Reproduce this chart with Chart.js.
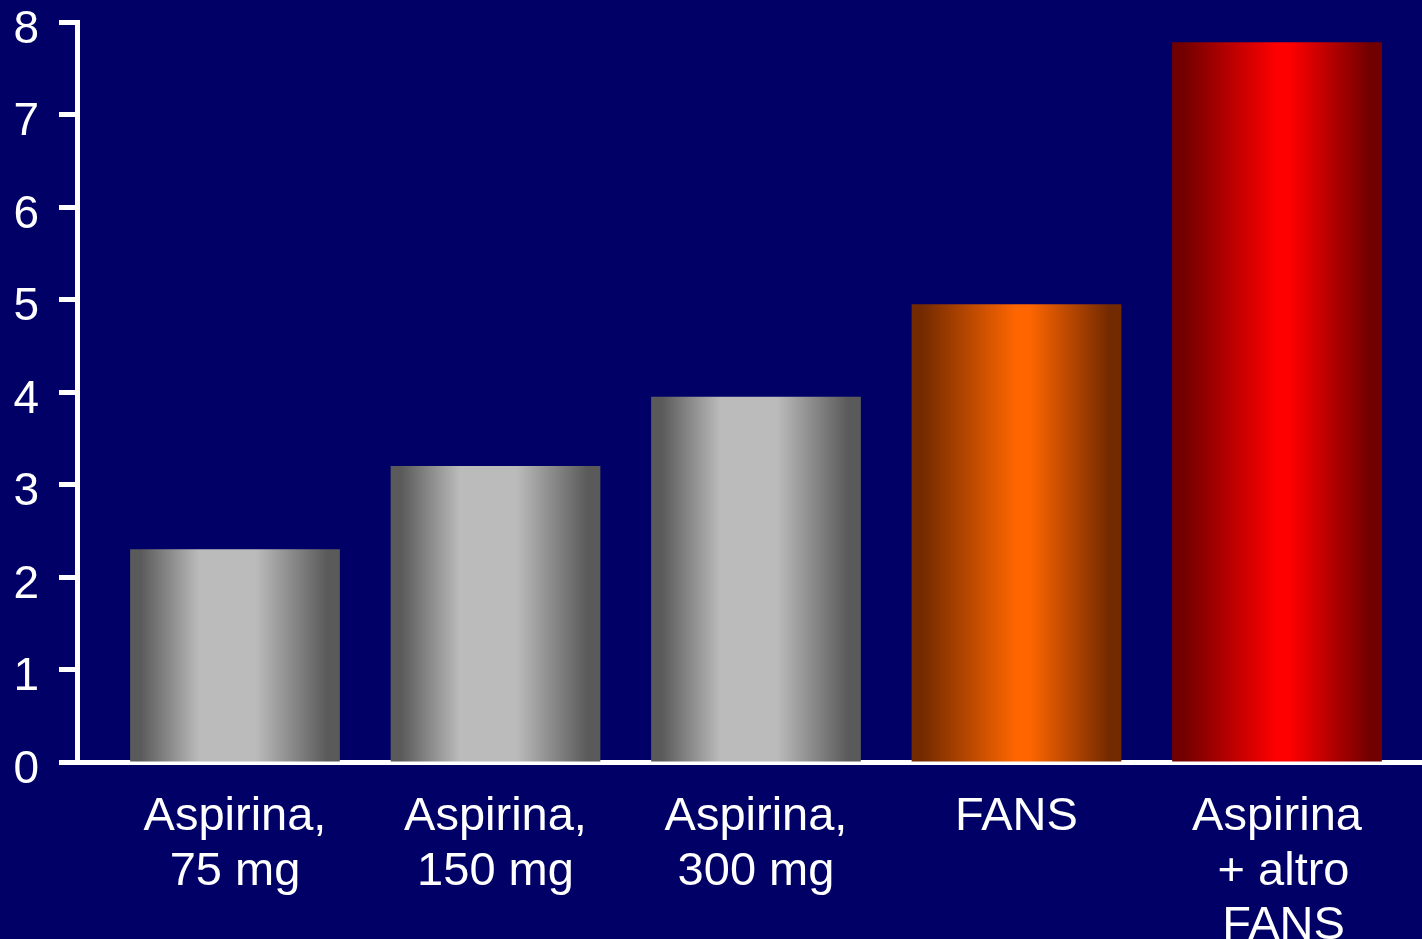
<!DOCTYPE html>
<html>
<head>
<meta charset="utf-8">
<script src="https://cdn.jsdelivr.net/npm/chart.js@4/dist/chart.umd.min.js"></script>
<style>
    html, body { margin: 0; padding: 0; background: #000066; overflow: hidden; }
    #wrap { width: 1422px; height: 939px; position: relative; }
</style>
</head>
<body>
<div id="wrap"><canvas id="chart-bars"></canvas></div>
<script>
const categories = [
    ['Aspirina,', '75 mg'],
    ['Aspirina,', '150 mg'],
    ['Aspirina,', '300 mg'],
    'FANS',
    ['Aspirina', ' + altro', ' FANS']
];
const values = [2.3, 3.2, 3.95, 4.95, 7.78];
const yTicks = [0, 1, 2, 3, 4, 5, 6, 7, 8];

// edge colour, centre colour
const barShades = [
    ['#5a5a5a', '#bbbbbb'],
    ['#5a5a5a', '#bbbbbb'],
    ['#5a5a5a', '#bbbbbb'],
    ['#742a00', '#ff6600'],
    ['#720000', '#ff0000']
];

const ctx = document.getElementById('chart-bars');
const barPct = 0.805;

function barFill(c) {
    const chart = c.chart;
    const shade = barShades[c.dataIndex] || barShades[0];
    if (!chart.chartArea || c.type !== 'data') {
        return shade[1];
    }
    const xs = chart.scales.x;
    const mid = xs.getPixelForValue(c.dataIndex);
    const w = (xs.getPixelForValue(1) - xs.getPixelForValue(0)) * barPct;
    const g = chart.ctx.createLinearGradient(mid - w / 2, 0, mid + w / 2, 0);
    g.addColorStop(0, shade[0]);
    g.addColorStop(0.05, shade[0]);
    if (c.dataIndex < 3) {
        g.addColorStop(0.33, shade[1]);
        g.addColorStop(0.6, shade[1]);
    } else {
        g.addColorStop(0.5, shade[1]);
        g.addColorStop(0.56, shade[1]);
    }
    g.addColorStop(0.94, shade[0]);
    g.addColorStop(1, shade[0]);
    return g;
}

new Chart(ctx, {
    type: 'bar',
    data: {
        datasets: [{
            data: values.map(function (v, i) { return { x: i, y: v }; }),
            backgroundColor: barFill,
            borderWidth: 0,
            barPercentage: barPct,
            categoryPercentage: 1
        }]
    },
    options: {
        responsive: true,
        maintainAspectRatio: false,
        animation: false,
        layout: { padding: { top: 22, right: 0, left: 0, bottom: 0 } },
        plugins: {
            legend: { display: false },
            tooltip: { enabled: false }
        },
        scales: {
            x: {
                type: 'linear',
                offset: false,
                min: -0.6065,
                max: 4.5566,
                grid: { display: false, drawTicks: false, offset: false },
                border: { display: true, color: '#ffffff', width: 5 },
                afterBuildTicks: function (scale) {
                    scale.ticks = categories.map(function (c, i) { return { value: i }; });
                },
                afterFit: function (scale) {
                    scale.height = 177;
                    scale.paddingLeft = 0;
                    scale.paddingRight = 0;
                },
                ticks: {
                    color: '#ffffff',
                    padding: 28,
                    maxRotation: 0,
                    autoSkip: false,
                    font: { family: 'Liberation Sans', size: 47, lineHeight: 1.16 },
                    callback: function (value) {
                        return categories[value];
                    }
                }
            },
            y: {
                min: 0,
                max: 8,
                afterBuildTicks: function (scale) {
                    scale.ticks = yTicks.map(function (v) { return { value: v }; });
                },
                afterFit: function (scale) {
                    scale.width = 77;
                    scale.paddingTop = 0;
                    scale.paddingBottom = 0;
                },
                grid: {
                    display: true,
                    drawOnChartArea: false,
                    drawTicks: true,
                    tickLength: 18,
                    tickWidth: 5,
                    tickColor: '#ffffff'
                },
                border: { display: true, color: '#ffffff', width: 5 },
                ticks: {
                    color: '#ffffff',
                    padding: 20,
                    labelOffset: 8,
                    font: { family: 'Liberation Sans', size: 46 }
                }
            }
        }
    }
});
</script>
</body>
</html>
